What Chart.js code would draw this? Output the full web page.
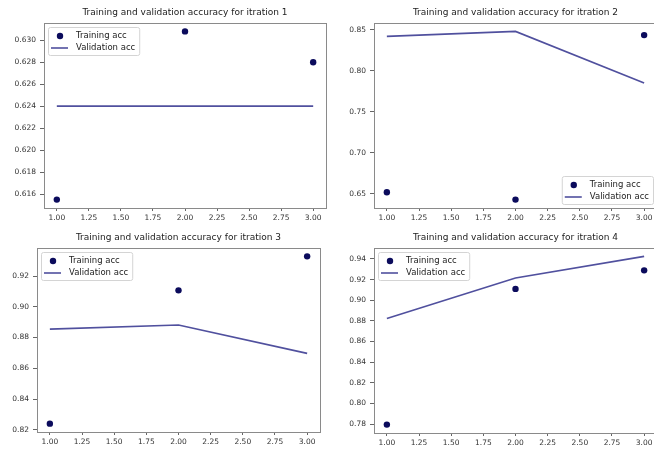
<!DOCTYPE html>
<html>
<head>
<meta charset="utf-8">
<script src="https://cdn.jsdelivr.net/npm/chart.js@4.4.0/dist/chart.umd.min.js"></script>
<style>
  html, body { margin: 0; padding: 0; background: #fff; }
  body { width: 654px; height: 450px; overflow: hidden; position: relative; }
  .cell { position: absolute; }
</style>
</head>
<body>
<div class="cell" style="left:0px;top:0px;width:330px;height:225px"><canvas id="acc1"></canvas></div>
<div class="cell" style="left:330px;top:0px;width:340px;height:225px"><canvas id="acc2"></canvas></div>
<div class="cell" style="left:0px;top:225px;width:330px;height:225px"><canvas id="acc3"></canvas></div>
<div class="cell" style="left:330px;top:225px;width:340px;height:225px"><canvas id="acc4"></canvas></div>
<script>
// Epochs shared by every run
const epochs = [1, 2, 3];

// Accuracy per epoch, one pair of series per iteration
const trainAcc1 = [0.6155, 0.6308, 0.6280];
const valAcc1   = [0.6240, 0.6240, 0.6240];

const trainAcc2 = [0.6520, 0.6430, 0.8435];
const valAcc2   = [0.8420, 0.8480, 0.7850];

const trainAcc3 = [0.8240, 0.9107, 0.9328];
const valAcc3   = [0.8855, 0.8882, 0.8697];

const trainAcc4 = [0.7795, 0.9110, 0.9290];
const valAcc4   = [0.8823, 0.9216, 0.9425];

// Tick values
const xTicks  = [1.00, 1.25, 1.50, 1.75, 2.00, 2.25, 2.50, 2.75, 3.00];
const yTicks1 = [0.616, 0.618, 0.620, 0.622, 0.624, 0.626, 0.628, 0.630];
const yTicks2 = [0.65, 0.70, 0.75, 0.80, 0.85];
const yTicks3 = [0.82, 0.84, 0.86, 0.88, 0.90, 0.92];
const yTicks4 = [0.78, 0.80, 0.82, 0.84, 0.86, 0.88, 0.90, 0.92, 0.94];

const titles = [
  'Training and validation accuracy for itration 1',
  'Training and validation accuracy for itration 2',
  'Training and validation accuracy for itration 3',
  'Training and validation accuracy for itration 4'
];

const FONT = "'DejaVu Sans', sans-serif";
const DOT = '#0b0b5c';
const LINE = '#50509e';

// Draws the closed axes frame and a legend box inside the plot area
const frameAndLegend = {
  id: 'frameAndLegend',
  afterDatasetsDraw(chart, args, opts) {
    const { ctx, chartArea: a } = chart;
    ctx.save();
    ctx.strokeStyle = '#8a8a8a';
    ctx.lineWidth = 1;
    ctx.strokeRect(Math.round(a.left) + 0.5, Math.round(a.top) + 0.5,
                   Math.round(a.right - a.left), Math.round(a.bottom - a.top));

    ctx.font = opts.fontSize + 'px ' + FONT;
    const items = chart.data.datasets;
    const textW = Math.max(...items.map(d => ctx.measureText(d.label).width));
    const w = 3 + 17 + 8 + textW + 4;
    const h = 28;
    let x, y;
    if (opts.loc === 'lower right') {
      x = a.right - 4 - w; y = a.bottom - 4 - h;
    } else {
      x = a.left + 4; y = a.top + 4;
    }
    ctx.beginPath();
    ctx.roundRect(x + 0.5, y + 0.5, w, h, 2);
    ctx.fillStyle = 'rgba(255,255,255,0.85)';
    ctx.fill();
    ctx.strokeStyle = '#d4d4d4';
    ctx.stroke();

    items.forEach((d, i) => {
      const cy = y + 9 + i * 12;
      if (d.showLine === false) {
        ctx.beginPath();
        ctx.arc(x + 12, cy, d.pointRadius, 0, Math.PI * 2);
        ctx.fillStyle = d.pointBackgroundColor;
        ctx.fill();
      } else {
        ctx.beginPath();
        ctx.moveTo(x + 3, cy);
        ctx.lineTo(x + 20, cy);
        ctx.strokeStyle = d.borderColor;
        ctx.lineWidth = d.borderWidth;
        ctx.stroke();
      }
      ctx.fillStyle = '#222';
      ctx.textBaseline = 'middle';
      ctx.textAlign = 'left';
      ctx.fillText(d.label, x + 28, cy);
    });
    ctx.restore();
  }
};

function makeChart(id, title, train, val, yTicks, decimals, cfg) {
  const all = train.concat(val);
  const lo = Math.min(...all), hi = Math.max(...all);
  const m = (hi - lo) * 0.05;
  const tickFont = { family: FONT, size: 7.5 };
  return new Chart(document.getElementById(id), {
    type: 'line',
    data: {
      datasets: [
        {
          label: 'Training acc',
          data: epochs.map((e, i) => ({ x: e, y: train[i] })),
          showLine: false,
          pointRadius: 3.2,
          pointBorderWidth: 0,
          pointBackgroundColor: DOT,
          pointBorderColor: DOT,
          borderColor: DOT,
          backgroundColor: DOT
        },
        {
          label: 'Validation acc',
          data: epochs.map((e, i) => ({ x: e, y: val[i] })),
          borderColor: LINE,
          borderWidth: 1.6,
          pointRadius: 0,
          tension: 0,
          fill: false
        }
      ]
    },
    options: {
      animation: false,
      responsive: true,
      maintainAspectRatio: false,
      devicePixelRatio: 1,
      layout: { padding: { left: 0, right: cfg.padR, top: 0, bottom: cfg.padB } },
      plugins: {
        legend: { display: false },
        tooltip: { enabled: false },
        title: {
          display: true,
          text: title,
          fullSize: false,
          color: '#222',
          font: { family: FONT, size: 9, weight: 'normal' },
          padding: { top: 7.6, bottom: 4.6 }
        },
        frameAndLegend: { loc: cfg.loc, fontSize: 8.5 }
      },
      scales: {
        x: {
          type: 'linear',
          min: 0.9,
          max: 3.1,
          afterBuildTicks: s => { s.ticks = xTicks.map(v => ({ value: v })); },
          afterFit: s => { s.height = 16; },
          ticks: { callback: v => Number(v).toFixed(2), font: tickFont, color: '#333',
                   padding: 3, autoSkip: false, maxRotation: 0 },
          grid: { drawOnChartArea: false, drawTicks: true, tickLength: 3, color: '#666' },
          border: { display: false }
        },
        y: {
          type: 'linear',
          min: lo - m,
          max: hi + m,
          afterBuildTicks: s => { s.ticks = yTicks.map(v => ({ value: v })); },
          afterFit: s => { s.width = cfg.yw; },
          ticks: { callback: v => Number(v).toFixed(decimals), font: tickFont, color: '#333',
                   padding: 4, autoSkip: false },
          grid: { drawOnChartArea: false, drawTicks: true, tickLength: 4, color: '#666' },
          border: { display: false }
        }
      }
    },
    plugins: [frameAndLegend]
  });
}

makeChart('acc1', titles[0], trainAcc1, valAcc1, yTicks1, 3, { yw: 44, padR: 2,  padB: 1, loc: 'upper left' });
makeChart('acc2', titles[1], trainAcc2, valAcc2, yTicks2, 2, { yw: 44, padR: 13, padB: 1, loc: 'lower right' });
makeChart('acc3', titles[2], trainAcc3, valAcc3, yTicks3, 2, { yw: 37, padR: 10, padB: 2, loc: 'upper left' });
makeChart('acc4', titles[3], trainAcc4, valAcc4, yTicks4, 2, { yw: 44, padR: 13, padB: 1, loc: 'upper left' });
</script>
</body>
</html>
